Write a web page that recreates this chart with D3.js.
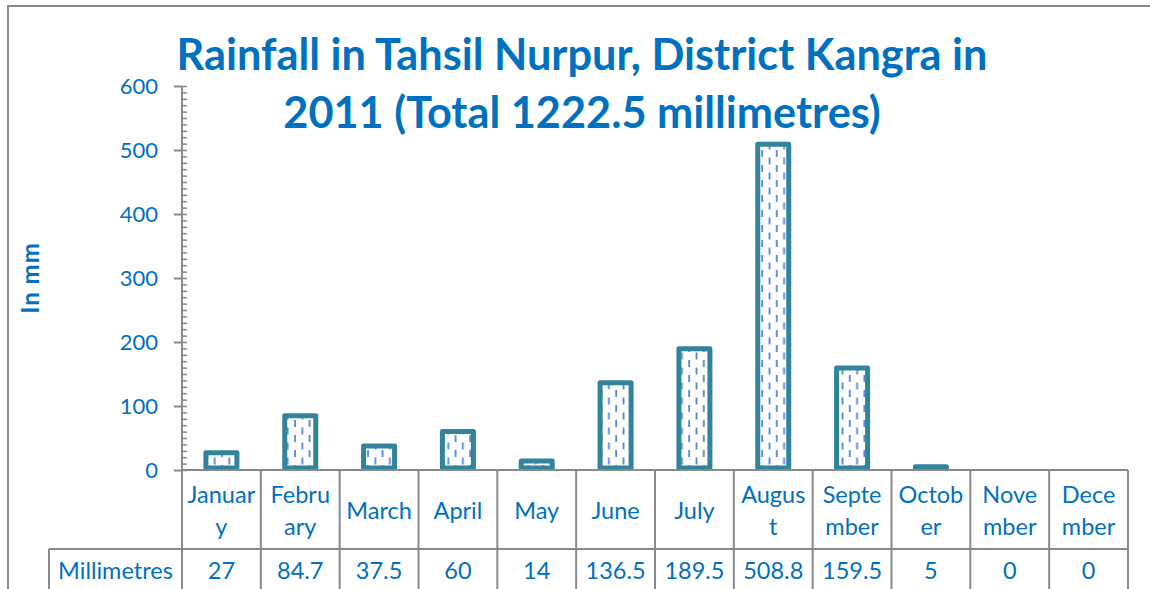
<!DOCTYPE html>
<html>
<head>
<meta charset="utf-8">
<script src="https://cdn.jsdelivr.net/npm/d3@7"></script>
<style>
    body { margin: 0; background: #fff; }
    svg { display: block; }
</style>
</head>
<body>
<script>
const fontFamily = "Lato, \"Open Sans\", sans-serif";
const blue = "#0070C0";
const teal = "#31849B";
const gray = "#898989";

// data
const months = ["January", "February", "March", "April", "May", "June", "July", "August", "September", "October", "November", "December"];
const monthLines = [["Januar", "y"], ["Febru", "ary"], ["March"], ["April"], ["May"], ["June"], ["July"], ["Augus", "t"], ["Septe", "mber"], ["Octob", "er"], ["Nove", "mber"], ["Dece", "mber"]];
const rainfall = [27, 84.7, 37.5, 60, 14, 136.5, 189.5, 508.8, 159.5, 5, 0, 0];
const valueLabels = ["27", "84.7", "37.5", "60", "14", "136.5", "189.5", "508.8", "159.5", "5", "0", "0"];
const yTicks = [0, 100, 200, 300, 400, 500, 600];
const titleLines = ["Rainfall in Tahsil Nurpur, District Kangra in", "2011 (Total 1222.5 millimetres)"];
const seriesName = "Millimetres";

const width = 1150;
const height = 589;
const plot = { left: 182, right: 1128, top: 86, bottom: 470 };
const headerBottom = 549;
const labelCellLeft = 49;
const tableFont = "23.5px";

const svg = d3.select("body").append("svg")
    .attr("width", width)
    .attr("height", height)
    .style("font-family", fontFamily);

// hatch pattern (dashed vertical lines)
const defs = svg.append("defs");
const pat = defs.append("pattern")
    .attr("id", "dashes")
    .attr("patternUnits", "userSpaceOnUse")
    .attr("width", 14.6)
    .attr("height", 15);
pat.append("rect").attr("width", 14.6).attr("height", 15).attr("fill", "#fff");
pat.append("line").attr("x1", 3).attr("x2", 3).attr("y1", 0).attr("y2", 7)
    .attr("stroke", "#4F86D3").attr("stroke-width", 1.8);
pat.append("line").attr("x1", 10.3).attr("x2", 10.3).attr("y1", 7.5).attr("y2", 14.5)
    .attr("stroke", "#4F86D3").attr("stroke-width", 1.8);

// outer frame
svg.append("path")
    .attr("d", `M8,${height} V6 H${width}`)
    .attr("fill", "none")
    .attr("stroke", gray)
    .attr("stroke-width", 2);

const x = d3.scaleBand()
    .domain(months)
    .range([plot.left, plot.right])
    .paddingInner(0)
    .paddingOuter(0);

const y = d3.scaleLinear()
    .domain([0, 600])
    .range([plot.bottom, plot.top]);

// minor ticks
const minorAxis = d3.axisRight(y)
    .tickValues(d3.range(0, 601, 10))
    .tickSize(5)
    .tickFormat("");
const gMinor = svg.append("g")
    .attr("transform", `translate(${plot.left},0)`)
    .call(minorAxis);
gMinor.select(".domain").remove();
gMinor.selectAll("line").attr("stroke", gray).attr("stroke-width", 1.5);

// major axis
const yAxis = d3.axisLeft(y)
    .tickValues(yTicks)
    .tickSize(8)
    .tickPadding(16)
    .tickFormat(d3.format("d"));
const gY = svg.append("g")
    .attr("transform", `translate(${plot.left},0)`)
    .call(yAxis);
gY.select(".domain").remove();
gY.selectAll("line").attr("stroke", gray).attr("stroke-width", 2);
gY.selectAll("text")
    .attr("fill", blue)
    .style("font-family", fontFamily)
    .style("font-size", "22px");

// axis line (runs down through the table)
svg.append("line")
    .attr("x1", plot.left).attr("x2", plot.left)
    .attr("y1", plot.top).attr("y2", height)
    .attr("stroke", gray).attr("stroke-width", 2);

// bars
const barW = 31;
const bars = svg.append("g");
rainfall.forEach((v, i) => {
    if (v <= 0) return;
    bars.append("rect")
        .attr("x", x(months[i]) + x.bandwidth() / 2 - barW / 2)
        .attr("y", y(v))
        .attr("width", barW)
        .attr("height", Math.max(0.5, plot.bottom - y(v) - 2))
        .attr("fill", "url(#dashes)")
        .attr("stroke", teal)
        .attr("stroke-width", 5)
        .attr("stroke-linejoin", "round");
});

// data table
const table = svg.append("g");
table.append("line")
    .attr("x1", plot.left).attr("x2", plot.right)
    .attr("y1", plot.bottom).attr("y2", plot.bottom)
    .attr("stroke", gray).attr("stroke-width", 2);
table.append("line")
    .attr("x1", labelCellLeft).attr("x2", plot.right)
    .attr("y1", headerBottom).attr("y2", headerBottom)
    .attr("stroke", gray).attr("stroke-width", 2);
table.append("line")
    .attr("x1", labelCellLeft).attr("x2", labelCellLeft)
    .attr("y1", headerBottom).attr("y2", height)
    .attr("stroke", gray).attr("stroke-width", 2);
months.forEach(m => {
    table.append("line")
        .attr("x1", x(m) + x.bandwidth()).attr("x2", x(m) + x.bandwidth())
        .attr("y1", plot.bottom).attr("y2", height)
        .attr("stroke", gray).attr("stroke-width", 2);
});

const headerMid = (plot.bottom + headerBottom) / 2 + 1;
const lineGap = 32;
months.forEach((m, i) => {
    const lines = monthLines[i];
    const t = table.append("text")
        .attr("text-anchor", "middle")
        .attr("fill", blue)
        .style("font-size", tableFont);
    lines.forEach((ln, k) => {
        t.append("tspan")
            .attr("x", x(m) + x.bandwidth() / 2)
            .attr("y", headerMid + (k - (lines.length - 1) / 2) * lineGap)
            .attr("dy", "0.35em")
            .text(ln);
    });
    table.append("text")
        .attr("x", x(m) + x.bandwidth() / 2)
        .attr("y", 571)
        .attr("dy", "0.35em")
        .attr("text-anchor", "middle")
        .attr("fill", blue)
        .style("font-size", tableFont)
        .text(valueLabels[i]);
});
table.append("text")
    .attr("x", (labelCellLeft + plot.left) / 2)
    .attr("y", 571)
    .attr("dy", "0.35em")
    .attr("text-anchor", "middle")
    .attr("fill", blue)
    .style("font-size", tableFont)
    .text(seriesName);

// y title
svg.append("text")
    .attr("transform", "translate(31,278) rotate(-90)")
    .attr("dy", "0.35em")
    .attr("text-anchor", "middle")
    .attr("fill", blue)
    .style("font-size", "24px")
    .style("letter-spacing", "1px")
    .style("font-weight", "bold")
    .text("In mm");

// chart title
svg.append("g")
    .selectAll("text")
    .data(titleLines)
    .enter()
    .append("text")
    .attr("x", 582)
    .attr("y", (d, i) => 70 + i * 58)
    .attr("text-anchor", "middle")
    .attr("fill", blue)
    .style("font-size", "43.3px")
    .style("font-weight", "bold")
    .text(d => d);
</script>
</body>
</html>
